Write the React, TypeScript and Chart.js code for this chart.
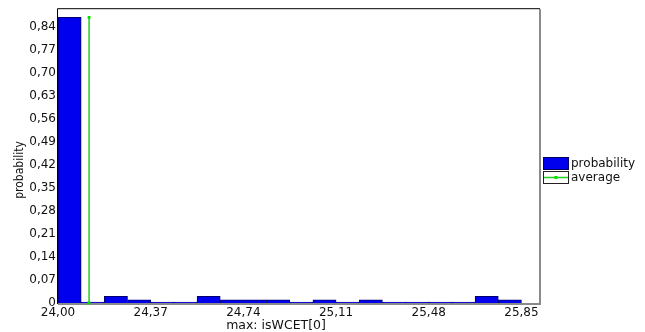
import React, { useEffect, useRef } from "react";
import { Chart, registerables } from "chart.js";

Chart.register(...registerables);

// Histogram bins (lower edges) of max: isWCET[0]
const binStarts = [
  24.0, 24.0925, 24.185, 24.2775, 24.37, 24.4625, 24.555, 24.6475, 24.74, 24.8325,
  24.925, 25.0175, 25.11, 25.2025, 25.295, 25.3875, 25.48, 25.5725, 25.665, 25.7575,
];
const binWidth = 0.0925;
const probabilities = [
  0.87, 0, 0.02, 0.01, 0, 0, 0.02, 0.01, 0.01, 0.01,
  0, 0.01, 0, 0.01, 0, 0, 0, 0, 0.02, 0.01,
];
const averageValue = 24.124;
const averageTop = 0.87;
const xTicks = [24.0, 24.37, 24.74, 25.11, 25.48, 25.85];
const yTicks = [0, 0.07, 0.14, 0.21, 0.28, 0.35, 0.42, 0.49, 0.56, 0.63, 0.7, 0.77, 0.84];
const xTitle = "max: isWCET[0]";
const yTitle = "probability";
const legendLabels = ["probability", "average"];

const fmt = (v: number) => (v === 0 ? "0" : v.toFixed(2).replace(".", ","));

const TICK_FONT = "'DejaVu Sans', Verdana, sans-serif";

const decorPlugin = {
  id: "decor",
  beforeDatasetsDraw(chart: any) {
    const { ctx, chartArea } = chart;
    const { left, top, right, bottom } = chartArea;
    ctx.save();
    ctx.strokeStyle = "#8a8a8a";
    ctx.lineWidth = 2;
    ctx.beginPath();
    ctx.moveTo(right + 1, top);
    ctx.lineTo(right + 1, bottom + 1);
    ctx.lineTo(left, bottom + 1);
    ctx.stroke();
    ctx.strokeStyle = "#000";
    ctx.lineWidth = 1;
    ctx.beginPath();
    ctx.moveTo(left - 0.5, bottom + 1);
    ctx.lineTo(left - 0.5, top - 0.5);
    ctx.lineTo(right + 1, top - 0.5);
    ctx.stroke();
    ctx.restore();
  },
  afterDraw(chart: any) {
    const { ctx } = chart;
    ctx.save();
    ctx.fillStyle = "#111";
    ctx.font = "12.5px " + TICK_FONT;
    ctx.textAlign = "center";
    ctx.textBaseline = "alphabetic";
    ctx.fillText(xTitle, 276, 329);

    ctx.save();
    ctx.translate(20, 170);
    ctx.rotate(-Math.PI / 2);
    ctx.font = "12px 'DejaVu Sans Condensed', 'Liberation Sans', sans-serif";
    ctx.textBaseline = "middle";
    ctx.fillText(yTitle, 0, 0);
    ctx.restore();

    const bx = 543;
    const bw = 25;
    const bh = 12;
    const y1 = 157;
    const y2 = 171;
    ctx.fillStyle = "#0000ee";
    ctx.fillRect(bx, y1, bw, bh);
    ctx.strokeStyle = "#000060";
    ctx.lineWidth = 1;
    ctx.strokeRect(bx + 0.5, y1 + 0.5, bw, bh);

    ctx.fillStyle = "#fff";
    ctx.fillRect(bx, y2, bw, bh);
    ctx.strokeStyle = "#222";
    ctx.strokeRect(bx + 0.5, y2 + 0.5, bw, bh);
    ctx.strokeStyle = "#22cc22";
    ctx.lineWidth = 1.5;
    ctx.beginPath();
    ctx.moveTo(bx + 1, y2 + bh / 2 + 0.5);
    ctx.lineTo(bx + bw, y2 + bh / 2 + 0.5);
    ctx.stroke();
    ctx.fillStyle = "#00dd00";
    ctx.fillRect(bx + bw / 2 - 1, y2 + bh / 2 - 1, 3, 3);

    ctx.fillStyle = "#111";
    ctx.font = "12px " + TICK_FONT;
    ctx.textAlign = "left";
    ctx.textBaseline = "middle";
    ctx.fillText(legendLabels[0], bx + bw + 3, y1 + bh / 2 + 0.5);
    ctx.fillText(legendLabels[1], bx + bw + 3, y2 + bh / 2 + 0.5);
    ctx.restore();
  },
};

export default function App() {
  const ref = useRef<HTMLCanvasElement | null>(null);

  useEffect(() => {
    if (!ref.current) return;
    const barData = binStarts.map((s, i) => ({ x: s + binWidth / 2, y: probabilities[i] }));
    const chart = new Chart(ref.current, {
      type: "bar",
      data: {
        datasets: [
          {
            type: "line",
            label: legendLabels[1],
            data: [
              { x: averageValue, y: 0 },
              { x: averageValue, y: averageTop },
            ],
            borderColor: "#22cc22",
            backgroundColor: "#00dd00",
            borderWidth: 1.5,
            pointStyle: "rect",
            pointRadius: 2,
            pointBorderWidth: 0,
            order: 0,
            clip: false,
          } as any,
          {
            type: "bar",
            label: legendLabels[0],
            data: barData,
            backgroundColor: "#0000ee",
            borderColor: "#000070",
            borderWidth: 1,
            borderSkipped: "start",
            barPercentage: 1,
            categoryPercentage: 1,
            minBarLength: 1,
            order: 1,
          } as any,
        ],
      },
      options: {
        responsive: false,
        animation: false,
        events: [],
        layout: { padding: { left: 0, top: 9, right: 106, bottom: 0 } },
        plugins: {
          legend: { display: false },
          tooltip: { enabled: false },
          title: { display: false },
        },
        scales: {
          x: {
            type: "linear",
            min: 24,
            max: 25.92,
            offset: false,
            grid: { display: false, drawTicks: false },
            border: { display: false },
            ticks: {
              padding: 3,
              color: "#111",
              font: { family: TICK_FONT, size: 12 },
              maxRotation: 0,
              autoSkip: false,
              callback: (v: any) => fmt(Number(v)),
            },
            afterBuildTicks: (scale: any) => {
              scale.ticks = xTicks.map((v) => ({ value: v }));
            },
            afterFit: (scale: any) => {
              scale.height = 29;
            },
          },
          y: {
            type: "linear",
            min: 0,
            max: 0.895,
            grid: { display: false, drawTicks: false },
            border: { display: false },
            ticks: {
              padding: 2,
              color: "#111",
              font: { family: TICK_FONT, size: 12 },
              autoSkip: false,
              callback: (v: any) => fmt(Number(v)),
            },
            afterBuildTicks: (scale: any) => {
              scale.ticks = yTicks.map((v) => ({ value: v }));
            },
            afterFit: (scale: any) => {
              scale.width = 58;
            },
          },
        },
      },
      plugins: [decorPlugin],
    });
    return () => chart.destroy();
  }, []);

  return (
    <div style={{ position: "absolute", left: 0, top: 0, width: 645, height: 332, background: "#fff" }}>
      <canvas ref={ref} width={645} height={332} style={{ display: "block", width: 645, height: 332 }} />
    </div>
  );
}
